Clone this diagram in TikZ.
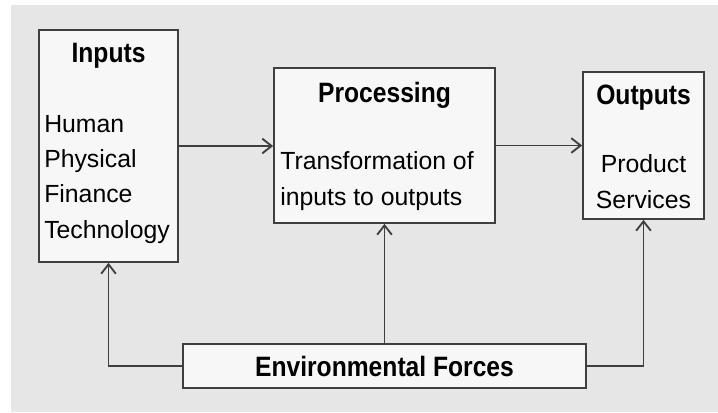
\documentclass[tikz,border=0pt]{standalone}
\usepackage{fontspec}
\setmainfont{Liberation Sans}
\newfontfamily\headfont{Liberation Sans}[FakeStretch=0.88]
\usetikzlibrary{arrows.meta}
\definecolor{bggray}{HTML}{E6E6E6}
\definecolor{boxfill}{HTML}{F7F7F7}
\definecolor{linegray}{HTML}{3F3F3F}

\begin{document}
\begin{tikzpicture}[x=0.75pt, y=-0.75pt,
    block/.style={draw=linegray, fill=boxfill, line width=1.3pt, inner sep=0pt},
    head/.style={font=\headfont\bfseries\fontsize{21}{24}\selectfont, inner sep=0pt},
    body/.style={font=\fontsize{18.6}{26.5}\selectfont, inner sep=0pt},
    flow/.style={draw=linegray, line width=1.4pt, -{Straight Barb[length=7pt,width=11pt]}}]
    % background
    \useasboundingbox (0,0) rectangle (718,412);
    \fill[white] (0,0) rectangle (718,412);
    \fill[bggray] (11,5) rectangle (718,412);
    % boxes
    \node[block, minimum width=104.25pt, minimum height=174pt] (inbox) at (108.5,146) {};
    \node[block, minimum width=165.75pt, minimum height=116.25pt] (procbox) at (384.5,145.5) {};
    \node[block, minimum width=90.75pt, minimum height=110.25pt] (outbox) at (643.5,145.5) {};
    \node[block, minimum width=302.25pt, minimum height=33pt,
          font=\headfont\bfseries\fontsize{21}{24}\selectfont] (envbox) at (384.5,366) {Environmental Forces};
    % titles
    \node[head, anchor=base] (intitle) at (108.5,62) {Inputs};
    \node[head, anchor=base] (proctitle) at (384.5,102) {Processing};
    \node[head, anchor=base] (outtitle) at (643.5,104) {Outputs};
    % contents (base = last line)
    \node[body, anchor=base west, align=left] (intext) at (44,238)
        {Human\\Physical\\Finance\\Technology};
    \node[body, anchor=base west, align=left] (proctext) at (280,205)
        {Transformation of\\inputs to outputs};
    \node[body, anchor=base, align=center] (outtext) at (643.5,208)
        {Product\\Services};
    % flows
    \draw[flow] (inbox.east) -- (inbox.east -| procbox.west);
    \draw[flow] (procbox.east) -- (procbox.east -| outbox.west);
    \draw[flow] (envbox.north) -- (procbox.south);
    \draw[flow] (envbox.west) -| (inbox.south);
    \draw[flow] (envbox.east) -| (outbox.south);
\end{tikzpicture}
\end{document}
